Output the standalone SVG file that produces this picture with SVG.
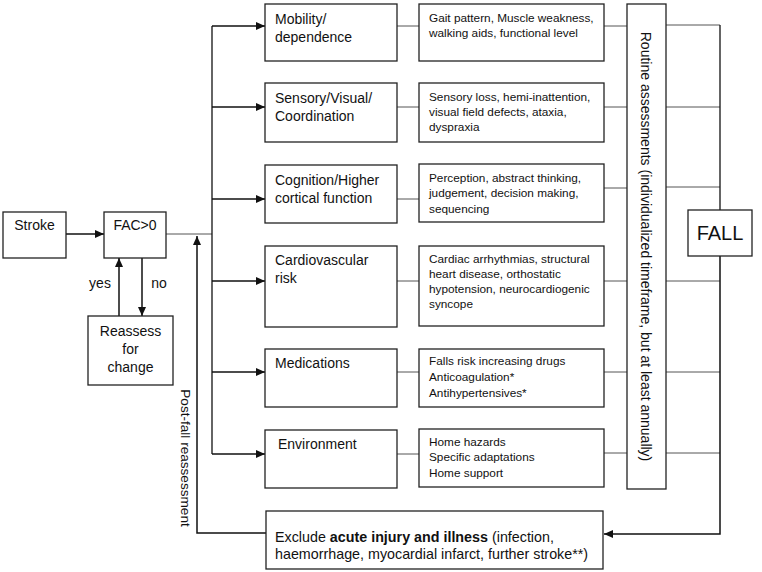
<svg xmlns="http://www.w3.org/2000/svg" width="762" height="572" viewBox="0 0 762 572">
<style>
.box{fill:#fff;stroke:#222;stroke-width:1.3}
.ln{fill:none;stroke:#111;stroke-width:1.3}
.gl{fill:none;stroke:#555;stroke-width:1}
.ar{fill:none;stroke:#111;stroke-width:1.5;marker-end:url(#ah)}
text{font-family:"Liberation Sans",Arial,sans-serif;fill:#111}
.t{font-size:14px}
.d{font-size:11.8px}
.c{text-anchor:middle}
</style>
<defs>
<marker id="ah" markerUnits="userSpaceOnUse" markerWidth="9" markerHeight="8" refX="9" refY="4" orient="auto">
<path d="M0,0 L9,4 L0,8 z" fill="#111"/>
</marker>
</defs>
<rect width="762" height="572" fill="#fff"/>
<g id="connectors">
<line class="ar" x1="66" y1="234" x2="104" y2="234"/>
<line class="ar" x1="119" y1="316" x2="119" y2="258"/>
<line class="ar" x1="142" y1="258" x2="142" y2="316"/>
<line class="gl" x1="166" y1="234" x2="212" y2="234"/>
<line class="ln" x1="212" y1="26" x2="212" y2="454"/>
<line class="ar" x1="212" y1="26" x2="265" y2="26"/>
<line class="ar" x1="212" y1="107" x2="265" y2="107"/>
<line class="ar" x1="212" y1="199" x2="265" y2="199"/>
<line class="ar" x1="212" y1="281" x2="265" y2="281"/>
<line class="ar" x1="212" y1="372" x2="265" y2="372"/>
<line class="ar" x1="212" y1="454" x2="265" y2="454"/>
<line class="gl" x1="397" y1="26" x2="419" y2="26"/>
<line class="gl" x1="397" y1="107" x2="419" y2="107"/>
<line class="gl" x1="397" y1="199" x2="419" y2="199"/>
<line class="gl" x1="397" y1="281" x2="419" y2="281"/>
<line class="gl" x1="397" y1="372" x2="419" y2="372"/>
<line class="gl" x1="397" y1="454" x2="419" y2="454"/>
<line class="gl" x1="604" y1="26" x2="627" y2="26"/>
<line class="gl" x1="604" y1="107" x2="627" y2="107"/>
<line class="gl" x1="604" y1="188" x2="627" y2="188"/>
<line class="gl" x1="604" y1="281" x2="627" y2="281"/>
<line class="gl" x1="604" y1="372" x2="627" y2="372"/>
<line class="gl" x1="604" y1="453" x2="627" y2="453"/>
<line class="gl" x1="666" y1="25" x2="720" y2="25"/>
<line class="gl" x1="666" y1="107" x2="720" y2="107"/>
<line class="gl" x1="666" y1="187" x2="720" y2="187"/>
<line class="gl" x1="666" y1="281" x2="720" y2="281"/>
<line class="gl" x1="666" y1="372" x2="720" y2="372"/>
<line class="gl" x1="666" y1="453" x2="720" y2="453"/>
<line class="ln" x1="720" y1="25" x2="720" y2="210"/>
<polyline class="ar" points="720,256 720,534 604,534"/>
<polyline class="ar" points="266,533 197,533 197,236"/>
</g>
<g id="stroke"><rect class="box" x="3" y="212" width="63" height="46"/><text class="t c" x="34.5" y="230">Stroke</text></g>
<g id="fac"><rect class="box" x="104" y="212" width="62" height="46"/><text class="t c" x="135" y="230">FAC&gt;0</text></g>
<g id="yes-label"><text class="t c" x="100" y="288">yes</text></g>
<g id="no-label"><text class="t c" x="159" y="288">no</text></g>
<g id="reassess"><rect class="box" x="88" y="316" width="85" height="69"/>
<text class="t c" x="130.5" y="336">Reassess</text><text class="t c" x="130.5" y="354">for</text><text class="t c" x="130.5" y="372">change</text></g>
<g id="mobility"><rect class="box" x="265" y="4" width="132" height="57"/><text class="t" x="275" y="24">Mobility/</text><text class="t" x="275" y="42">dependence</text></g>
<g id="sensory"><rect class="box" x="265" y="83" width="132" height="59"/><text class="t" x="275" y="103">Sensory/Visual/</text><text class="t" x="275" y="121">Coordination</text></g>
<g id="cognition"><rect class="box" x="265" y="165" width="132" height="58"/><text class="t" x="275" y="185">Cognition/Higher</text><text class="t" x="275" y="203">cortical function</text></g>
<g id="cardio"><rect class="box" x="265" y="246" width="132" height="81"/><text class="t" x="275" y="265">Cardiovascular</text><text class="t" x="275" y="283">risk</text></g>
<g id="medications"><rect class="box" x="265" y="349" width="132" height="58"/><text class="t" x="275" y="368">Medications</text></g>
<g id="environment"><rect class="box" x="265" y="430" width="132" height="58"/><text class="t" x="278" y="449">Environment</text></g>
<g id="gait"><rect class="box" x="419" y="4" width="185" height="57"/><text class="d" x="429" y="22">Gait pattern, Muscle weakness,</text><text class="d" x="429" y="37">walking aids, functional level</text></g>
<g id="sensloss"><rect class="box" x="419" y="83" width="185" height="59"/><text class="d" x="429" y="101">Sensory loss, hemi-inattention,</text><text class="d" x="429" y="116">visual field defects, ataxia,</text><text class="d" x="429" y="131">dyspraxia</text></g>
<g id="perception"><rect class="box" x="419" y="164" width="185" height="58"/><text class="d" x="429" y="182">Perception, abstract thinking,</text><text class="d" x="429" y="197">judgement, decision making,</text><text class="d" x="429" y="213">sequencing</text></g>
<g id="cardiac"><rect class="box" x="419" y="246" width="185" height="80"/><text class="d" x="429" y="263">Cardiac arrhythmias, structural</text><text class="d" x="429" y="278">heart disease, orthostatic</text><text class="d" x="429" y="293">hypotension, neurocardiogenic</text><text class="d" x="429" y="308">syncope</text></g>
<g id="falls"><rect class="box" x="419" y="349" width="185" height="58"/><text class="d" x="429" y="365">Falls risk increasing drugs</text><text class="d" x="429" y="381">Anticoagulation*</text><text class="d" x="429" y="397">Antihypertensives*</text></g>
<g id="home"><rect class="box" x="419" y="429" width="185" height="58"/><text class="d" x="429" y="446">Home hazards</text><text class="d" x="429" y="461">Specific adaptations</text><text class="d" x="429" y="477">Home support</text></g>
<g id="routine"><rect class="box" x="627" y="4" width="39" height="485"/>
<text class="c" font-size="14" transform="translate(646,246.5) rotate(90)" dominant-baseline="central">Routine assessments (individualized timeframe, but at least annually)</text></g>
<g id="fall"><rect class="box" x="688" y="210" width="64" height="46"/><text class="c" font-size="20" x="720" y="240">FALL</text></g>
<g id="exclude"><rect class="box" x="266" y="511" width="337" height="58"/>
<text font-size="14.3" x="275" y="542">Exclude <tspan font-weight="bold">acute injury and illness</tspan> (infection,</text>
<text font-size="14.3" x="275" y="559">haemorrhage, myocardial infarct, further stroke**)</text></g>
<g id="postfall-label"><text class="c" font-size="13.6" transform="translate(185,458) rotate(90)" dominant-baseline="central">Post-fall reassessment</text></g>
</svg>
